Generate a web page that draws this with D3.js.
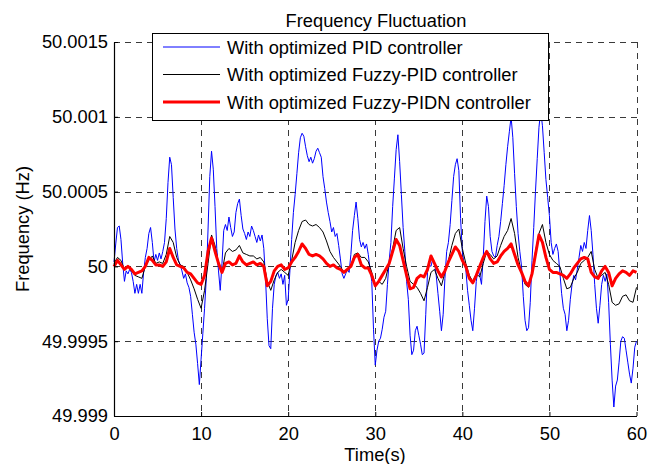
<!DOCTYPE html>
<html><head><meta charset="utf-8">
<script src="https://cdn.jsdelivr.net/npm/d3@7"></script>
<style>body{margin:0;background:#fff}svg{display:block}text{font-family:"Liberation Sans",Arial,sans-serif;fill:#000}</style>
</head><body>
<script>
// values are deviations from 50 Hz in units of 1e-4 Hz
const blueDt = 0.2;
const pidBlue = [0.3,1.5,2.6,2.7,1.8,0.2,-1.0,-0.3,-0.5,-0.2,-0.4,-1.0,-1.8,-1.2,-1.8,-1.2,-1.8,-0.4,0.6,1.2,
2.2,2.6,1.6,0.3,0.8,0.4,0.9,0.5,1.0,1.6,3.2,5.6,7.3,6.8,4.6,2.5,1.2,0.4,0.1,-0.3,
-0.8,-0.5,-1.1,-1.4,-2.0,-3.2,-4.4,-5.2,-6.5,-7.9,-6.2,-4.5,-2.8,-0.8,2.5,6.0,7.7,6.5,4.0,1.2,
-0.3,-1.6,0.2,2.4,2.8,2.4,3.3,2.6,2.0,2.3,3.6,4.2,4.5,3.4,2.5,2.2,1.8,2.3,2.0,2.7,
2.4,2.0,1.6,2.1,1.7,2.1,1.2,-0.8,-3.5,-5.3,-5.5,-2.8,-1.2,-0.6,-0.4,-0.8,-0.5,-1.2,-0.6,-2.6,
-2.2,-0.3,1.8,3.6,4.8,6.2,7.6,8.6,8.9,8.7,8.0,7.4,7.0,7.3,6.9,7.2,7.7,7.9,7.6,7.3,
6.0,5.2,4.3,3.6,3.0,2.3,2.6,2.0,2.2,1.4,0.5,-0.5,-0.8,-0.5,-0.2,-0.4,0.8,2.4,3.4,4.3,
3.2,1.8,1.3,1.6,1.2,1.5,0.8,-0.2,-1.0,-4.2,-6.6,-5.6,-5.0,-4.8,-4.2,-3.4,-3.0,-1.2,0.4,1.6,
4.0,5.9,7.8,8.8,7.0,4.8,2.6,1.0,-1.0,-2.2,-4.6,-5.9,-5.6,-4.3,-4.0,-4.6,-5.2,-5.9,-5.8,-3.2,
-0.4,0.1,0.0,0.5,0.3,-0.6,-1.8,-3.0,-4.3,-3.2,-0.8,1.0,1.6,2.8,4.4,6.0,6.8,7.2,6.4,3.2,
1.0,0.2,-0.2,-1.6,-2.6,-3.6,-4.3,-2.8,-1.0,-0.2,-0.6,-1.2,0.6,3.0,4.7,4.0,2.0,1.0,0.7,0.6,
1.4,2.0,3.0,4.2,5.4,6.8,8.0,9.0,10.0,8.6,6.2,4.0,2.2,1.0,0.0,-2.0,-3.6,-4.3,-4.1,-2.4,
0.4,2.6,5.0,7.2,9.3,10.4,9.4,7.6,5.8,4.6,3.4,1.6,0.8,1.2,1.5,1.0,-0.4,-1.8,-2.8,-3.2,
-4.3,-3.6,-2.2,-1.2,-0.6,-0.9,-0.2,0.6,1.4,1.0,1.6,1.2,2.4,3.4,2.4,0.8,-1.2,-2.8,-3.8,-2.6,
-1.2,-0.6,-1.0,-0.5,-2.4,-5.2,-7.6,-9.4,-8.0,-7.6,-6.4,-5.0,-4.7,-4.8,-5.6,-6.4,-7.2,-7.8,-6.8,-5.4,-5.0];

const otherDt = 0.4;
const fuzzyBlack = [0.2,0.6,0.4,-0.2,0.0,-0.3,-0.6,-0.7,-0.8,0.0,0.4,0.7,0.2,0.3,0.2,0.8,2.0,1.6,0.6,0.1,
0.0,-0.4,-0.9,-1.5,-2.2,-2.8,-1.6,0.2,2.1,1.4,0.2,-0.4,0.9,1.2,1.0,1.1,1.4,0.9,0.8,0.7,
0.7,0.5,0.6,0.3,-1.0,-1.6,-0.9,-0.4,-0.2,-0.4,-0.6,0.4,1.6,2.4,3.0,3.1,2.8,2.7,2.8,2.6,
2.3,1.7,1.0,0.6,0.3,0.0,-0.4,-0.3,0.0,0.8,0.9,0.6,0.6,0.3,-0.4,-1.3,-1.0,-1.2,-0.8,0.2,
1.2,2.4,2.6,1.2,0.0,-1.0,-1.2,-1.4,-1.8,-2.3,-1.4,-0.4,-0.2,-0.8,-1.3,-0.4,0.4,1.4,2.2,2.5,
1.2,0.2,-0.6,-1.0,-0.5,-0.7,0.2,1.0,0.8,0.5,0.7,1.4,2.0,2.4,3.2,2.2,0.6,-0.4,-1.2,-1.4,
-0.4,1.0,2.2,2.8,1.6,0.8,0.4,0.2,0.0,-0.8,-1.5,-1.4,-0.8,-0.4,0.2,0.4,0.6,1.0,-0.2,-0.8,
-0.6,-0.4,-1.2,-2.4,-2.6,-2.5,-2.0,-1.9,-2.3,-2.4,-1.4];

const pidnRed = [0.0,0.4,0.1,-0.2,0.0,-0.2,-0.5,-0.4,-0.3,0.0,0.6,0.4,0.1,0.1,0.0,0.3,1.2,0.6,0.1,0.0,
-0.1,-0.4,-0.5,-0.8,-1.1,-1.2,-0.6,1.0,1.9,1.0,0.2,-0.4,0.2,0.3,0.1,0.2,0.7,0.3,0.1,0.2,
0.3,0.1,0.2,0.0,-1.3,-1.0,-0.3,0.0,0.1,-0.2,-0.1,0.3,0.6,1.0,1.5,1.2,0.8,0.7,0.8,0.7,
0.5,0.2,0.0,0.1,-0.1,-0.2,-0.4,-0.2,0.0,0.6,0.8,0.1,-0.1,-0.1,-0.6,-1.3,-1.0,-0.6,-0.2,0.2,
1.0,1.8,1.4,0.4,-0.6,-1.5,-1.4,-0.8,-0.6,-0.7,-0.2,0.7,0.2,-0.3,-0.7,-0.3,0.3,0.8,1.3,1.0,
0.4,0.0,-0.8,-1.1,-0.6,0.0,0.6,1.0,0.5,0.2,0.3,0.7,1.0,1.2,1.5,0.8,0.1,-0.4,-1.0,-1.3,
-0.5,0.8,2.1,1.6,0.6,-0.2,-0.4,-0.4,-0.5,-0.6,-0.8,-0.5,-0.1,0.2,0.5,0.6,0.5,-0.4,-0.7,-0.8,
-0.3,0.0,-0.4,-1.3,-0.8,-0.5,-0.3,-0.4,-0.6,-0.3,-0.4];

const xTicks = [0,10,20,30,40,50,60];
const yTicks = [49.999,49.9995,50,50.0005,50.001,50.0015];
const yTickLabels = ["49.999","49.9995","50","50.0005","50.001","50.0015"];
const seriesNames = ["With optimized PID controller","With optimized Fuzzy-PID controller","With optimized Fuzzy-PIDN controller"];
const seriesColors = ["#0000ff","#000000","#ff0000"];
const seriesWidths = [1,1,3];

const FS = 18.3;
const W=648,H=464, L=114, R=636.5, T=42, B=416;
const svg=d3.select("body").append("svg").attr("width",W).attr("height",H);
const x=d3.scaleLinear().domain([0,60]).range([L,R]);
const y=d3.scaleLinear().domain([49.999,50.0015]).range([B,T]);

const grid=svg.append("g").attr("stroke","#3a3a3a").attr("stroke-width",1).attr("stroke-dasharray","6,5").attr("shape-rendering","crispEdges");
xTicks.slice(1).forEach(t=>grid.append("line").attr("x1",Math.round(x(t))+0.5).attr("x2",Math.round(x(t))+0.5).attr("y1",T).attr("y2",B));
yTicks.slice(1).forEach(t=>grid.append("line").attr("y1",Math.round(y(t))+0.5).attr("y2",Math.round(y(t))+0.5).attr("x1",L).attr("x2",R));

const lineGen=(dt)=>d3.line().x((d,i)=>x(i*dt)).y(d=>y(50+d*1e-4));
const plot=svg.append("g");
const data=[[pidBlue,blueDt],[fuzzyBlack,otherDt],[pidnRed,otherDt]];
data.forEach((s,k)=>{
  plot.append("path").datum(s[0]).attr("d",lineGen(s[1])).attr("fill","none")
    .attr("stroke",seriesColors[k]).attr("stroke-width",seriesWidths[k]).attr("stroke-linejoin","round");
});

const xAxis=d3.axisBottom(x).tickValues(xTicks).tickFormat(d3.format("d")).tickSizeInner(-4).tickSizeOuter(0).tickPadding(11);
const gx=svg.append("g").attr("transform",`translate(0,${B})`).call(xAxis);
const yAxis=d3.axisLeft(y).tickValues(yTicks).tickFormat((d,i)=>yTickLabels[i]).tickSizeInner(-4).tickSizeOuter(0).tickPadding(6);
const gy=svg.append("g").attr("transform",`translate(${L},0)`).call(yAxis);
[gx,gy].forEach(g=>{g.select(".domain").attr("stroke","#000").attr("stroke-width",1.2);
  g.selectAll("text").attr("font-size",FS).attr("font-family","Liberation Sans, Arial, sans-serif").attr("fill","#000");
  g.selectAll(".tick line").attr("stroke","#000");});

svg.append("text").attr("x",376).attr("y",27).attr("text-anchor","middle").attr("font-size",FS).text("Frequency Fluctuation");
svg.append("text").attr("x",375).attr("y",461).attr("text-anchor","middle").attr("font-size",FS).text("Time(s)");
svg.append("text").attr("transform","translate(29,229) rotate(-90)").attr("text-anchor","middle").attr("font-size",FS).text("Frequency (Hz)");

const lg=svg.append("g");
lg.append("rect").attr("x",152.5).attr("y",33.5).attr("width",396).attr("height",87).attr("fill","#fff").attr("stroke","#000").attr("stroke-width",1);
seriesNames.forEach((n,i)=>{
  const yy=47+i*27.5;
  lg.append("line").attr("x1",163).attr("x2",220).attr("y1",yy).attr("y2",yy).attr("stroke",seriesColors[i]).attr("stroke-width",seriesWidths[i]);
  lg.append("text").attr("x",227).attr("y",yy+6.5).attr("font-size",FS).text(n);
});
</script>
</body></html>
